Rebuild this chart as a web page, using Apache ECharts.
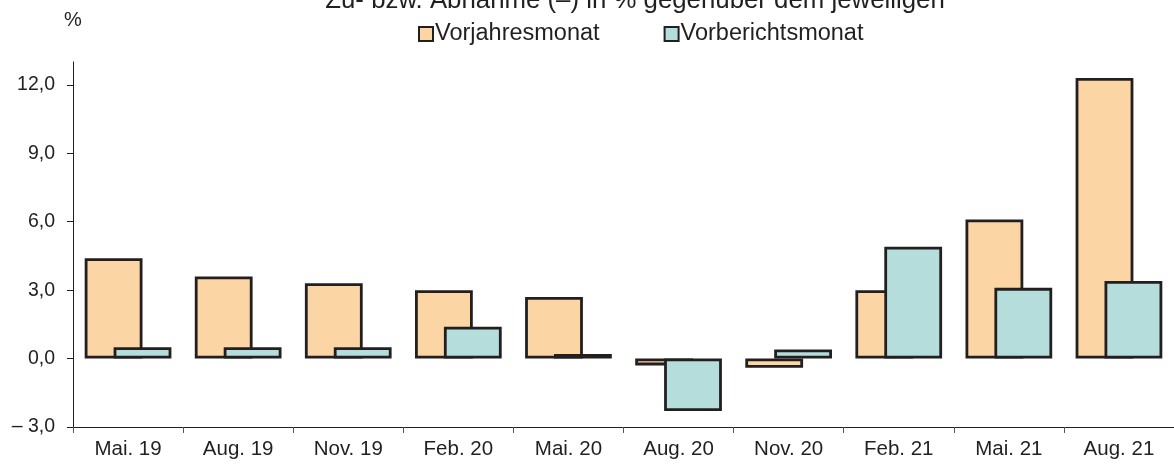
<!DOCTYPE html>
<html>
<head>
<meta charset="utf-8">
<script src="https://cdn.jsdelivr.net/npm/echarts@6/dist/echarts.min.js"></script>
<style>html,body{margin:0;padding:0;background:#fff}#c{width:1174px;height:466px}</style>
</head>
<body>
<div id="c"></div>
<script>
const categories = ['Mai. 19','Aug. 19','Nov. 19','Feb. 20','Mai. 20','Aug. 20','Nov. 20','Feb. 21','Mai. 21','Aug. 21'];
const vorjahresmonat = [4.4, 3.6, 3.3, 3.0, 2.7, -0.3, -0.4, 3.0, 6.1, 12.3];
const vorberichtsmonat = [0.5, 0.5, 0.5, 1.4, 0.2, -2.3, 0.4, 4.9, 3.1, 3.4];
const yTicks = [-3, 0, 3, 6, 9, 12];
const titleText = 'Zu- bzw. Abnahme (–) in % gegenüber dem jeweiligen';
const seriesNames = ['Vorjahresmonat', 'Vorberichtsmonat'];

const font = 'Liberation Sans, Arial, sans-serif';
const fmt = v => {
  const s = Math.abs(v).toFixed(1).replace('.', ',');
  return v < 0 ? '– ' + s : s;
};
const chart = echarts.init(document.getElementById('c'), null, {renderer: 'canvas'});
chart.setOption({
  animation: false,
  backgroundColor: '#fff',
  title: {
    text: titleText, left: 630, top: -17, textAlign: 'center',
    textStyle: {fontFamily: font, fontSize: 25.8, fontWeight: 'normal', color: '#231f20'}
  },
  graphic: [{type: 'text', left: 64, top: 10, style: {text: '%', fontFamily: font, fontSize: 20, fill: '#231f20'}}],
  legend: {
    data: seriesNames, left: 418, top: 22, padding: 0, itemWidth: 14, itemHeight: 14, itemGap: 64,
    icon: 'rect',
    textStyle: {fontFamily: font, fontSize: 23.5, color: '#231f20', padding: [0, 0, 0, -3]},
    itemStyle: {borderColor: '#231f20', borderWidth: 2}
  },
  grid: {left: 73, right: -7, top: 62, bottom: 39, containLabel: false},
  xAxis: [{
    type: 'category', data: categories, position: 'bottom',
    axisLine: {show: false}, axisTick: {show: false},
    axisLabel: {fontFamily: font, fontSize: 20.5, color: '#231f20', margin: 12}
  }, {
    type: 'category', data: categories, position: 'bottom',
    axisLine: {show: true, onZero: true, lineStyle: {color: '#231f20', width: 1}},
    axisTick: {show: true, inside: false, length: 6, lineStyle: {color: '#555'}},
    axisLabel: {show: false}
  }],
  yAxis: {
    type: 'value', min: -3, max: 13, interval: 3,
    axisLine: {show: true, lineStyle: {color: '#231f20', width: 1}},
    axisTick: {show: true, length: 6, customValues: yTicks, lineStyle: {color: '#231f20'}},
    axisLabel: {customValues: yTicks, formatter: fmt, fontFamily: font, fontSize: 19.5, color: '#231f20', margin: 18},
    splitLine: {show: false}
  },
  series: [{
    name: seriesNames[0], type: 'bar', data: vorjahresmonat, barWidth: '52.5%', barGap: '-50%',
    itemStyle: {color: '#fcd5a5', borderColor: '#231f20', borderWidth: 2.8}
  }, {
    name: seriesNames[1], type: 'bar', data: vorberichtsmonat, barWidth: '52.5%', barGap: '-50%',
    itemStyle: {color: '#b5dddc', borderColor: '#231f20', borderWidth: 2.8}
  }]
});
</script>
</body>
</html>
